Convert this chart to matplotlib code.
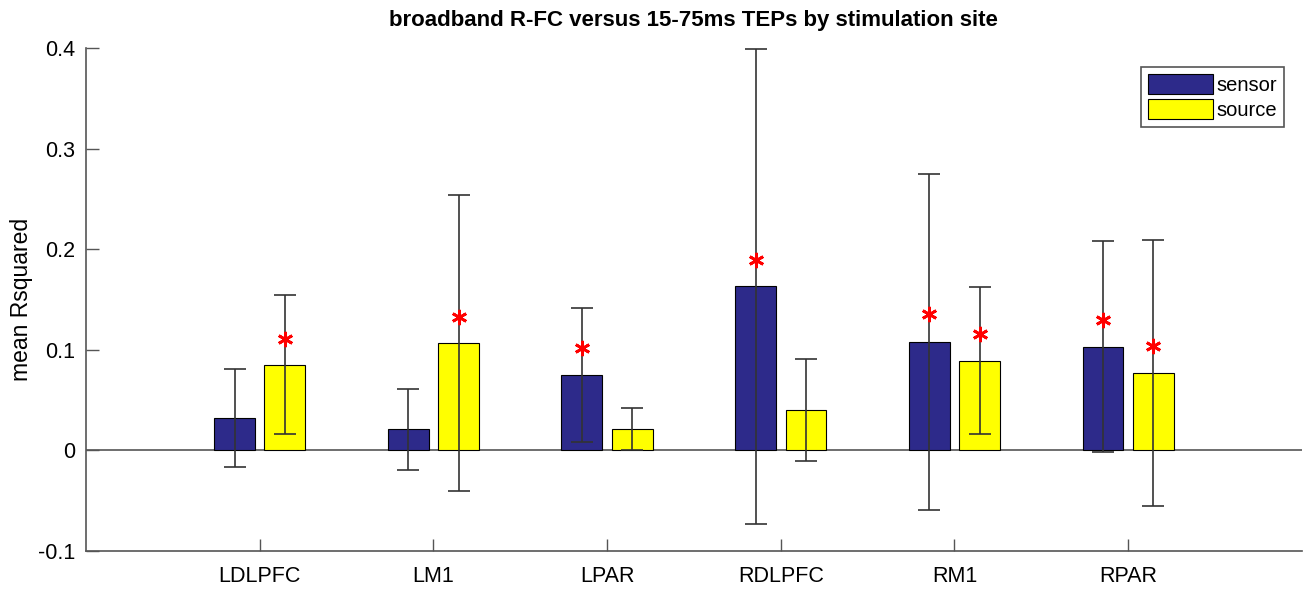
import matplotlib
matplotlib.use("Agg")
import matplotlib.pyplot as plt
import numpy as np

plt.rcParams['font.family'] = ['Liberation Sans', 'DejaVu Sans']

# data
sites = ['LDLPFC', 'LM1', 'LPAR', 'RDLPFC', 'RM1', 'RPAR']
sensor = [0.032, 0.021, 0.075, 0.163, 0.108, 0.103]
source = [0.085, 0.107, 0.021, 0.040, 0.089, 0.077]
sensor_err = [0.049, 0.040, 0.067, 0.236, 0.167, 0.105]
source_err = [0.069, 0.147, 0.021, 0.051, 0.073, 0.132]
# significance stars (None = no star)
sensor_star = [None, None, 0.102, 0.189, 0.136, 0.130]
source_star = [0.111, 0.133, None, None, 0.116, 0.104]

fig = plt.figure(figsize=(13.15, 5.91), dpi=100)
ax = fig.add_axes([0.0654, 0.0677, 0.9246, 0.8511])

x = np.arange(1, len(sites) + 1)
off = 0.145
w = 0.235
ax.bar(x - off, sensor, w, color='#2d2a8a', edgecolor='black', linewidth=0.8,
       label='sensor', zorder=2)
ax.bar(x + off, source, w, color='#ffff00', edgecolor='black', linewidth=0.8,
       label='source', zorder=2)
ax.errorbar(x - off, sensor, yerr=sensor_err, fmt='none', ecolor='#333333',
            elinewidth=1.2, capsize=8, capthick=1.2, zorder=3)
ax.errorbar(x + off, source, yerr=source_err, fmt='none', ecolor='#333333',
            elinewidth=1.2, capsize=8, capthick=1.2, zorder=3)

# asterisk markers like MATLAB '*'
star = (6, 2, 0)
for xi, s in zip(x - off, sensor_star):
    if s is not None:
        ax.plot(xi, s, marker=star, color='red', markersize=11,
                markeredgewidth=2, zorder=4)
for xi, s in zip(x + off, source_star):
    if s is not None:
        ax.plot(xi, s, marker=star, color='red', markersize=11,
                markeredgewidth=2, zorder=4)

ax.axhline(0, color='#555555', linewidth=1.2, zorder=1)

ax.set_xlim(0, 7)
ax.set_ylim(-0.1, 0.4)
ax.set_xticks(x)
ax.set_xticklabels(sites)
ax.set_yticks([-0.1, 0, 0.1, 0.2, 0.3, 0.4])
ax.set_yticklabels(['-0.1', '0', '0.1', '0.2', '0.3', '0.4'])
ax.tick_params(direction='in', length=9, width=1, colors='#555555',
               labelcolor='black', labelsize=15.5)
ax.tick_params(axis='x', pad=11)
ax.tick_params(axis='y', pad=8)
for side in ['top', 'right']:
    ax.spines[side].set_visible(False)
for side in ['left', 'bottom']:
    ax.spines[side].set_color('#555555')
    ax.spines[side].set_linewidth(1.2)

ax.set_ylabel('mean Rsquared', fontsize=16.5, labelpad=3)
ax.set_title('broadband R-FC versus 15-75ms TEPs by stimulation site',
             fontsize=16, fontweight='bold', pad=16)

leg = ax.legend(loc='upper right', bbox_to_anchor=(0.9855, 0.963), fontsize=14.5,
                fancybox=False, framealpha=1, edgecolor='#555555',
                handlelength=3.2, handleheight=1.2, handletextpad=0.2,
                borderpad=0.35, labelspacing=0.2, borderaxespad=0)
leg.get_frame().set_linewidth(1.2)

fig.savefig('out.png', dpi=100)
